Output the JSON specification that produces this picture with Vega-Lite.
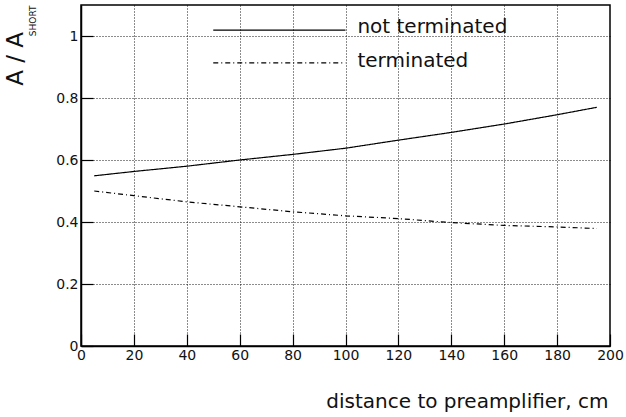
{
  "$schema": "https://vega.github.io/schema/vega-lite/v6.json",
  "width": 529,
  "height": 341,
  "autosize": "none",
  "padding": {"left": 81, "top": 5, "right": 16, "bottom": 71},
  "config": {
    "view": {"stroke": "black", "strokeWidth": 1.5},
    "font": "DejaVu Sans"
  },
  "title": {
    "text": "A / A",
    "orient": "left",
    "anchor": "end",
    "fontSize": 23,
    "fontWeight": "normal",
    "color": "#111",
    "offset": 0,
    "dx": -27
  },
  "datasets": {
    "curves": [
      {"series": "not terminated", "d": 5, "r": 0.549},
      {"series": "not terminated", "d": 20, "r": 0.563},
      {"series": "not terminated", "d": 40, "r": 0.58},
      {"series": "not terminated", "d": 60, "r": 0.6},
      {"series": "not terminated", "d": 80, "r": 0.618},
      {"series": "not terminated", "d": 100, "r": 0.638},
      {"series": "not terminated", "d": 120, "r": 0.664},
      {"series": "not terminated", "d": 140, "r": 0.689},
      {"series": "not terminated", "d": 160, "r": 0.716},
      {"series": "not terminated", "d": 180, "r": 0.746},
      {"series": "not terminated", "d": 195, "r": 0.77},
      {"series": "terminated", "d": 5, "r": 0.5},
      {"series": "terminated", "d": 20, "r": 0.485},
      {"series": "terminated", "d": 40, "r": 0.465},
      {"series": "terminated", "d": 60, "r": 0.449},
      {"series": "terminated", "d": 80, "r": 0.433},
      {"series": "terminated", "d": 100, "r": 0.42},
      {"series": "terminated", "d": 120, "r": 0.411},
      {"series": "terminated", "d": 140, "r": 0.398},
      {"series": "terminated", "d": 160, "r": 0.389},
      {"series": "terminated", "d": 180, "r": 0.384},
      {"series": "terminated", "d": 195, "r": 0.379}
    ],
    "legend": [
      {"series": "not terminated", "x1": 50, "x2": 100, "y": 1.019, "tx": 104.5, "ty": 1.01},
      {"series": "terminated", "x1": 50, "x2": 100, "y": 0.913, "tx": 104.5, "ty": 0.901}
    ]
  },
  "layer": [
    {
      "data": {"name": "curves"},
      "mark": {"type": "line", "color": "black", "strokeWidth": 1.2},
      "encoding": {
        "x": {
          "field": "d", "type": "quantitative",
          "scale": {"domain": [0, 200], "nice": false, "zero": false},
          "axis": {
            "values": [0,5,10,15,20,25,30,35,40,45,50,55,60,65,70,75,80,85,90,95,100,105,110,115,120,125,130,135,140,145,150,155,160,165,170,175,180,185,190,195,200],
            "labelExpr": "datum.value % 20 === 0 ? datum.label : ''",
            "labelFontSize": 14,
            "labelColor": "#111",
            "labelPadding": 14,
            "labelFlush": false,
            "labelOverlap": false,
            "tickColor": "black",
            "tickWidth": 1.2,
            "tickSize": {"condition": {"test": "datum.value % 20 === 0", "value": -12}, "value": -6},
            "grid": true,
            "gridColor": "black",
            "gridDash": [1, 2],
            "gridWidth": 1,
            "gridOpacity": {"condition": {"test": "datum.value % 20 === 0 && datum.value > 0 && datum.value < 200", "value": 0.9}, "value": 0},
            "domainColor": "black",
            "domainWidth": 1.5,
            "title": "distance to preamplifier, cm",
            "titleFontSize": 20,
            "titleFontWeight": "normal",
            "titleColor": "#111",
            "titleAnchor": "end",
            "titleAlign": "right",
            "titleBaseline": "alphabetic",
            "titleX": 527,
            "titleY": 61
          }
        },
        "y": {
          "field": "r", "type": "quantitative",
          "scale": {"domain": [0, 1.1], "nice": false},
          "axis": {
            "values": [0,0.05,0.1,0.15,0.2,0.25,0.3,0.35,0.4,0.45,0.5,0.55,0.6,0.65,0.7,0.75,0.8,0.85,0.9,0.95,1,1.05],
            "labelExpr": "round(datum.value*100) % 20 === 0 ? format(datum.value, '~g') : ''",
            "labelFontSize": 14,
            "labelColor": "#111",
            "labelPadding": 15,
            "labelFlush": false,
            "labelOverlap": false,
            "tickColor": "black",
            "tickWidth": 1.2,
            "tickSize": {"condition": {"test": "round(datum.value*100) % 20 === 0", "value": -12}, "value": -6},
            "grid": true,
            "gridColor": "black",
            "gridDash": [1, 2],
            "gridWidth": 1,
            "gridOpacity": {"condition": {"test": "round(datum.value*100) % 20 === 0 && datum.value > 0", "value": 0.9}, "value": 0},
            "domainColor": "black",
            "domainWidth": 1.5,
            "title": "SHORT",
            "titleFontSize": 9,
            "titleFontWeight": "normal",
            "titleColor": "#111",
            "titleAngle": -90,
            "titleAlign": "right",
            "titleBaseline": "alphabetic",
            "titleX": -46,
            "titleY": 0
          }
        },
        "strokeDash": {
          "field": "series", "type": "nominal",
          "scale": {"domain": ["not terminated", "terminated"], "range": [[1, 0], [5, 3, 1, 3]]},
          "legend": null
        }
      }
    },
    {
      "data": {"name": "legend"},
      "mark": {"type": "rule", "color": "black", "strokeWidth": 1.2},
      "encoding": {
        "x": {"field": "x1", "type": "quantitative"},
        "x2": {"field": "x2"},
        "y": {"field": "y", "type": "quantitative"},
        "strokeDash": {
          "field": "series", "type": "nominal",
          "scale": {"domain": ["not terminated", "terminated"], "range": [[1, 0], [5, 3, 1, 3]]},
          "legend": null
        }
      }
    },
    {
      "data": {"name": "legend"},
      "mark": {"type": "text", "align": "left", "baseline": "alphabetic", "fontSize": 20, "color": "#111"},
      "encoding": {
        "x": {"field": "tx", "type": "quantitative"},
        "y": {"field": "ty", "type": "quantitative"},
        "text": {"field": "series"}
      }
    }
  ]
}
